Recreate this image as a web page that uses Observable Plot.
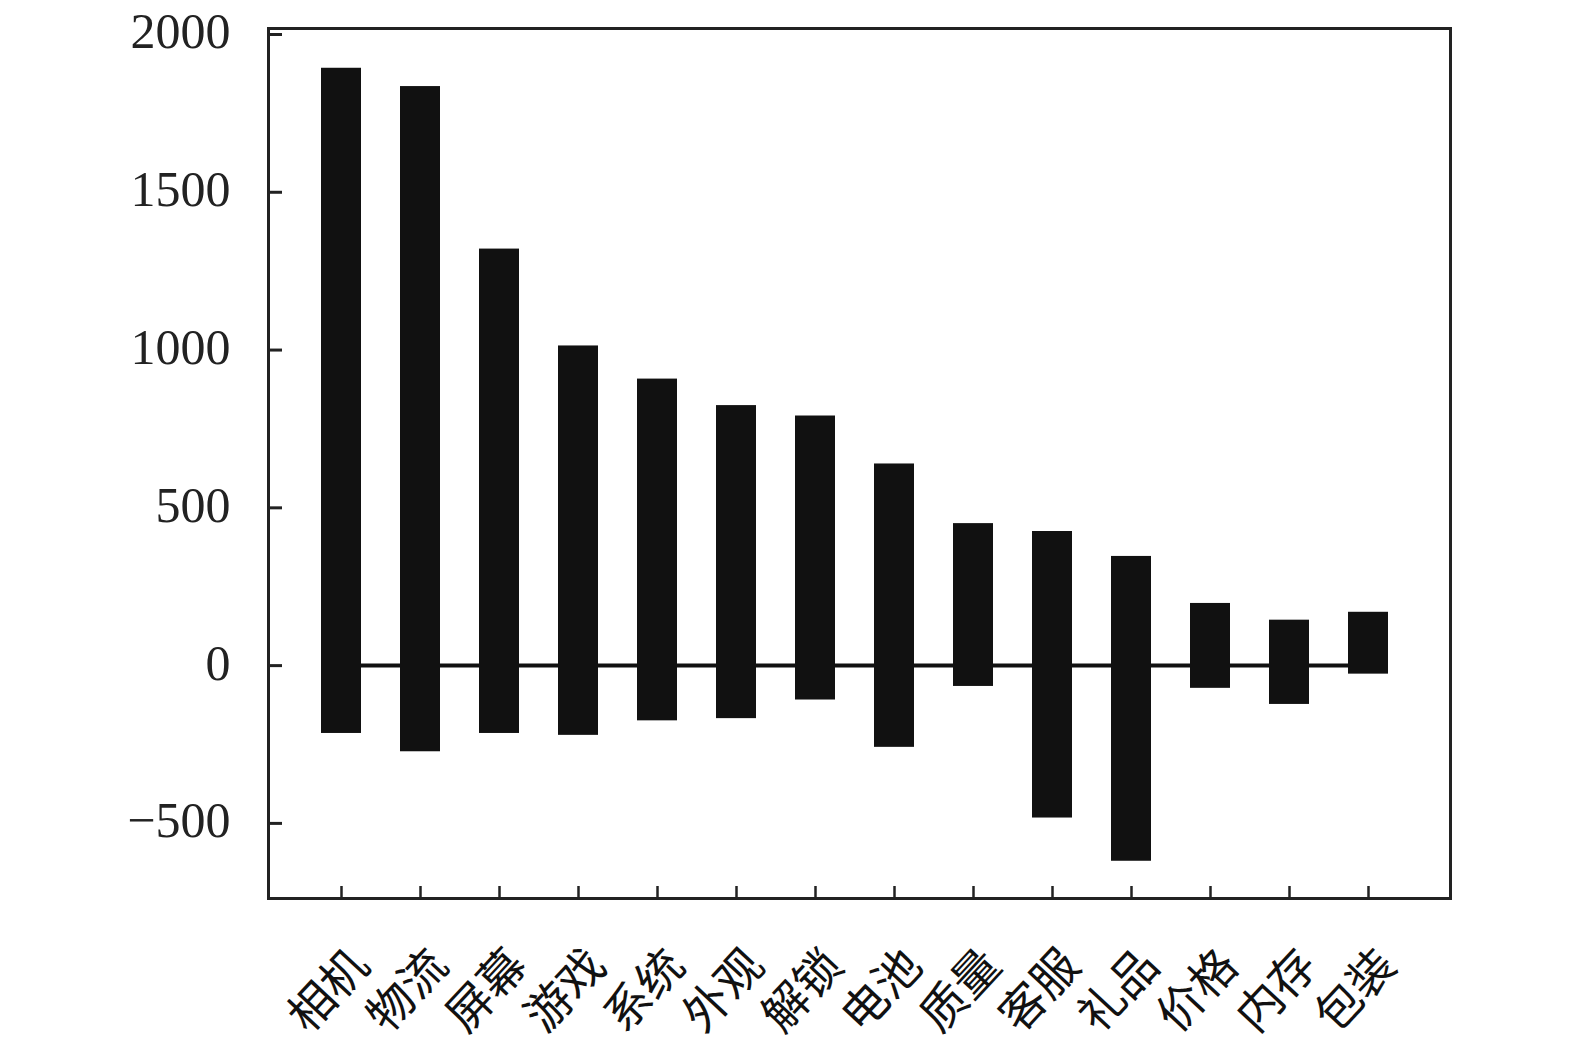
<!DOCTYPE html>
<html>
<head>
<meta charset="utf-8">
<script src="https://cdn.jsdelivr.net/npm/d3@7"></script>
<script src="https://cdn.jsdelivr.net/npm/@observablehq/plot@0.6"></script>
<style>
  html, body { margin: 0; padding: 0; background: #fff; }
  #chart svg { display: block; }
</style>
</head>
<body>
<div id="chart"></div>
<script>
const categories = ["相机","物流","屏幕","游戏","系统","外观","解锁","电池","质量","客服","礼品","价格","内存","包装"];
const positiveValues = [1893, 1835, 1320, 1013, 908, 824, 791, 639, 450, 425, 346, 197, 144, 169];
const negativeValues = [-215, -273, -215, -221, -175, -168, -109, -259, -66, -483, -620, -72, -123, -27];
const yTicks = [-500, 0, 500, 1000, 1500, 2000];

const data = categories.map((c, i) => ({cat: c, pos: positiveValues[i], neg: negativeValues[i]}));

const W = 1575, H = 1050;
const mL = 268, mR = 125, mT = 28, mB = 152;
const plotW = W - mL - mR, plotH = H - mT - mB;
const fmt = d => (d < 0 ? "\u2212" + Math.abs(d) : String(d));

const chart = Plot.plot({
  width: W,
  height: H,
  marginLeft: mL,
  marginRight: mR,
  marginTop: mT,
  marginBottom: mB,
  x: {domain: categories, range: [279, 1430], padding: 0.5, axis: null},
  y: {domain: [-738, 2019], axis: null},
  marks: [
    Plot.lineY(data, {x: "cat", y: () => 0, stroke: "#111", strokeWidth: 4}),
    Plot.barY(data, {x: "cat", y1: "neg", y2: "pos", fill: "#111"}),
    Plot.ruleY(yTicks, {y: d => d, insetRight: plotW - 14, stroke: "#222", strokeWidth: 3}),
    Plot.ruleX(categories, {x: d => d, insetTop: plotH - 12, stroke: "#222", strokeWidth: 2.5}),
    Plot.frame({stroke: "#222", strokeWidth: 3}),
    Plot.text(yTicks, {
      y: d => d, text: fmt, frameAnchor: "left", textAnchor: "end",
      dx: -38, dy: -2, fontSize: 50, fontFamily: "Liberation Serif", fill: "#222"
    }),
    Plot.text(categories, {
      x: d => d, text: d => d, frameAnchor: "bottom", textAnchor: "end", lineAnchor: "middle",
      rotate: -47, dx: 19, dy: 59, fontSize: 46, fontFamily: "Noto Sans CJK SC", fill: "#111"
    })
  ]
});
document.getElementById("chart").appendChild(chart);
</script>
</body>
</html>
